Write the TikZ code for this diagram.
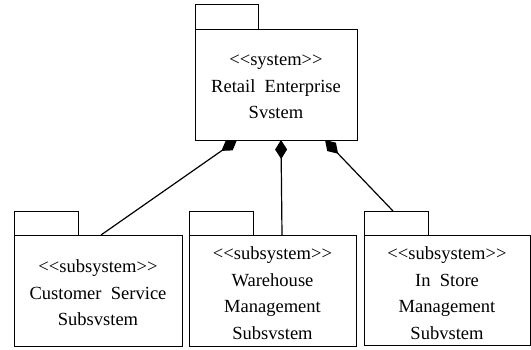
\documentclass[tikz,border=0pt]{standalone}
\usepackage{fontspec}
\setmainfont{Liberation Serif}
\usetikzlibrary{arrows.meta}
\tikzset{
  pkg/.style={draw, line width=1.1bp, inner sep=0pt, anchor=north west},
  lbl/.style={align=center, font=\fontsize{18.6}{26.6}\selectfont, inner sep=0pt},
  comp/.style={line width=1.2bp, -{Diamond[length=19bp,width=12bp]}}
}
\newcommand{\stereo}[1]{{<}{<}#1{>}{>}}
\begin{document}
\begin{tikzpicture}[x=1bp,y=-1bp]
\useasboundingbox (0,0) rectangle (531,349);
% top package
\node[pkg, minimum width=63bp, minimum height=25bp] (ttab) at (195,4) {};
\node[pkg, minimum width=162bp, minimum height=111bp] (top) at (195,29) {};
\node[lbl] (toptxt) at (276,87) {\stereo{system}\\Retail\ \ Enterprise\\Svstem};
% left package
\node[pkg, minimum width=64bp, minimum height=24bp] (ltab) at (14,211) {};
\node[pkg, minimum width=168bp, minimum height=111bp] (left) at (14,235) {};
\node[lbl] (lefttxt) at (98,293) {\stereo{subsystem}\\Customer\ \ Service\\Subsvstem};
% middle package
\node[pkg, minimum width=64bp, minimum height=24bp] (mtab) at (189,211) {};
\node[pkg, minimum width=167bp, minimum height=111bp] (mid) at (189,235) {};
\node[lbl] (midtxt) at (272.5,293) {\stereo{subsystem}\\Warehouse\\Management\\Subsvstem};
% right package
\node[pkg, minimum width=64bp, minimum height=24bp] (rtab) at (364,211) {};
\node[pkg, minimum width=166bp, minimum height=110bp] (right) at (364,235) {};
\node[lbl] (righttxt) at (447,293) {\stereo{subsystem}\\In\ \ Store\\Management\\Subvstem};
% attachment points on the top package
\coordinate (lb) at (237,140);
\coordinate (mb) at (281,140);
\coordinate (rb) at (325,140);
% connectors
\draw[comp] (left.north west) ++(87,0) coordinate (la) -- (lb);
\draw[comp] (mid.north west) ++(93,0) coordinate (ma) -- (mb);
\draw[comp] (rtab.north west) ++(29,0) coordinate (ra) -- (rb);
\end{tikzpicture}
\end{document}
